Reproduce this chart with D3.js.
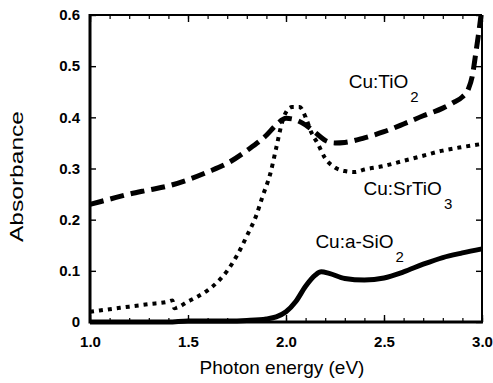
<!DOCTYPE html>
<html><head><meta charset="utf-8">
<script src="https://cdn.jsdelivr.net/npm/d3@7"></script>
<style>body{margin:0;background:#fff}svg{display:block}text{font-family:"Liberation Sans",Arial,sans-serif;fill:#000}</style>
</head><body>
<svg id="c" width="493" height="383"></svg>
<script>
const xTicks = [1.0, 1.5, 2.0, 2.5, 3.0];
const xTickLabels = ["1.0", "1.5", "2.0", "2.5", "3.0"];
const yTicks = [0, 0.1, 0.2, 0.3, 0.4, 0.5, 0.6];
const yTickLabels = ["0", "0.1", "0.2", "0.3", "0.4", "0.5", "0.6"];

const tio2X = [1.0,1.1,1.2,1.3,1.4,1.5,1.6,1.7,1.8,1.9,1.95,2.0,2.05,2.1,2.15,2.2,2.25,2.3,2.4,2.5,2.6,2.7,2.8,2.85,2.9,2.93,2.95,2.97,2.985,2.995];
const tio2Y = [0.23,0.24,0.25,0.258,0.266,0.278,0.293,0.31,0.335,0.365,0.385,0.398,0.395,0.385,0.37,0.355,0.35,0.351,0.36,0.372,0.387,0.403,0.418,0.428,0.44,0.455,0.48,0.53,0.57,0.6];

const srX = [1.0,1.1,1.2,1.3,1.4,1.42,1.43,1.5,1.55,1.6,1.65,1.7,1.75,1.8,1.85,1.88,1.92,1.95,1.98,2.0,2.03,2.07,2.1,2.13,2.16,2.2,2.25,2.3,2.35,2.4,2.5,2.6,2.7,2.8,2.9,3.0];
const srY = [0.02,0.025,0.03,0.035,0.04,0.042,0.027,0.04,0.05,0.062,0.078,0.1,0.13,0.168,0.21,0.245,0.29,0.34,0.39,0.41,0.42,0.42,0.4,0.37,0.35,0.32,0.302,0.295,0.293,0.298,0.305,0.315,0.325,0.335,0.342,0.348];

const sioX = [1.0,1.4,1.5,1.7,1.8,1.9,1.95,2.0,2.05,2.1,2.15,2.18,2.22,2.3,2.4,2.5,2.6,2.7,2.8,2.9,3.0];
const sioY = [0,0,0.002,0.002,0.003,0.006,0.01,0.02,0.04,0.07,0.092,0.098,0.095,0.085,0.082,0.086,0.098,0.113,0.126,0.135,0.143];

const labels = [
  {text:"Cu:TiO", sub:"2", x:2.32, y:0.458},
  {text:"Cu:SrTiO", sub:"3", x:2.395, y:0.248},
  {text:"Cu:a-SiO", sub:"2", x:2.15, y:0.145}
];

const L = 90, R = 482, T = 15, B = 322;
const svg = d3.select("#c");
const x = d3.scaleLinear().domain([1, 3]).range([L, R]);
const y = d3.scaleLinear().domain([0, 0.6]).range([B, T]);

const minorX = d3.range(1.0, 3.0001, 0.1);
svg.append("g").attr("transform",`translate(0,${B})`)
  .call(d3.axisBottom(x).tickValues(minorX).tickSize(-4).tickFormat(""))
  .call(g=>g.select(".domain").remove()).selectAll("line").attr("stroke-width",1.2);
svg.append("g").attr("transform",`translate(0,${T})`)
  .call(d3.axisTop(x).tickValues(minorX).tickSize(-4).tickFormat(""))
  .call(g=>g.select(".domain").remove()).selectAll("line").attr("stroke-width",1.2);
const bx = svg.append("g").attr("transform",`translate(0,${B})`)
  .call(d3.axisBottom(x).tickValues(xTicks).tickSize(-7).tickPadding(14).tickFormat((d,i)=>xTickLabels[i]));
bx.select(".domain").remove();
bx.selectAll("line").attr("stroke-width",1.4);
bx.selectAll("text").attr("font-size",15).attr("font-weight","bold").attr("font-family","Liberation Sans, Arial, sans-serif");
svg.append("g").attr("transform",`translate(0,${T})`)
  .call(d3.axisTop(x).tickValues(xTicks).tickSize(-7).tickFormat(""))
  .call(g=>g.select(".domain").remove()).selectAll("line").attr("stroke-width",1.4);
const ly = svg.append("g").attr("transform",`translate(${L},0)`)
  .call(d3.axisLeft(y).tickValues(yTicks).tickSize(-6).tickPadding(10).tickFormat((d,i)=>yTickLabels[i]));
ly.select(".domain").remove();
ly.selectAll("line").attr("stroke-width",1.4);
ly.selectAll("text").attr("font-size",15).attr("font-weight","bold").attr("font-family","Liberation Sans, Arial, sans-serif");
svg.append("g").attr("transform",`translate(${R},0)`)
  .call(d3.axisRight(y).tickValues(yTicks).tickSize(-6).tickFormat(""))
  .call(g=>g.select(".domain").remove()).selectAll("line").attr("stroke-width",1.4);

svg.append("line").attr("x1",L).attr("x2",R).attr("y1",T).attr("y2",T).attr("stroke","#000").attr("stroke-width",2);
svg.append("line").attr("x1",R).attr("x2",R).attr("y1",T).attr("y2",B).attr("stroke","#000").attr("stroke-width",2);
svg.append("line").attr("x1",L).attr("x2",L).attr("y1",T-1).attr("y2",B+1.5).attr("stroke","#000").attr("stroke-width",3);
svg.append("line").attr("x1",L).attr("x2",R+1).attr("y1",B).attr("y2",B).attr("stroke","#000").attr("stroke-width",3);

const line = d3.line().x(d=>x(d[0])).y(d=>y(d[1])).curve(d3.curveMonotoneX);
const zip = (a,b)=>a.map((v,i)=>[v,b[i]]);

svg.append("path").datum(zip(sioX,sioY)).attr("d",line)
  .attr("fill","none").attr("stroke","#000").attr("stroke-width",5).attr("stroke-linejoin","round");
svg.append("path").datum(zip(srX,srY)).attr("d",line)
  .attr("fill","none").attr("stroke","#000").attr("stroke-width",4).attr("stroke-dasharray","4,5");
svg.append("path").datum(zip(tio2X,tio2Y)).attr("d",line)
  .attr("fill","none").attr("stroke","#000").attr("stroke-width",5).attr("stroke-dasharray","14,7");

labels.forEach(l=>{
  const t = svg.append("text").attr("x",x(l.x)).attr("y",y(l.y)).attr("font-size",19);
  t.append("tspan").text(l.text);
  t.append("tspan").attr("dy",14).attr("dx",2).attr("font-size",15).text(l.sub);
});

svg.append("text").attr("x",(L+R)/2 - 4).attr("y",374).attr("text-anchor","middle")
  .attr("font-size",19).text("Photon energy (eV)");
svg.append("text").attr("transform",`translate(23,${(T+B)/2+8}) rotate(-90)`).attr("text-anchor","middle")
  .attr("font-size",19).attr("textLength",131).attr("lengthAdjust","spacingAndGlyphs").text("Absorbance");
</script>
</body></html>
